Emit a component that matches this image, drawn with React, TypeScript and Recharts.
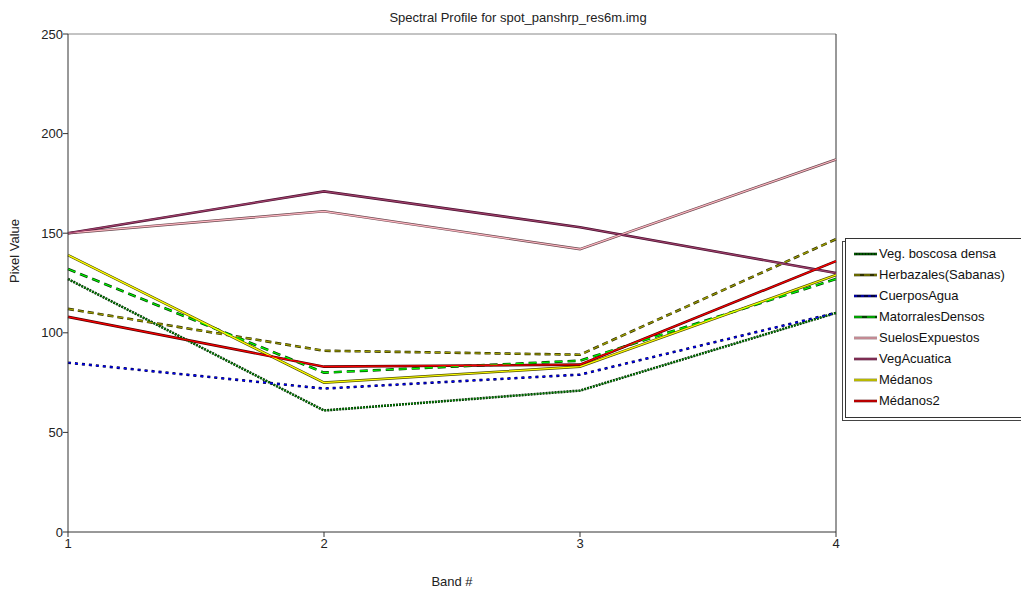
import React from "react";
import { LineChart, Line, XAxis, YAxis, ReferenceLine } from "recharts";

const bands = [1, 2, 3, 4];
const bandTicks = [1, 2, 3, 4];
const valueTicks = [0, 50, 100, 150, 200, 250];

const vegBoscosa = [127, 61, 71, 110];
const herbazales = [112, 91, 89, 147];
const cuerposAgua = [85, 72, 79, 110];
const matorrales = [132, 80, 86, 127];
const suelos = [150, 161, 142, 187];
const vegAcuatica = [150, 171, 153, 130];
const medanos = [139, 75, 83, 129];
const medanos2 = [108, 83, 84, 136];

const seriesDefs = [
  { key: "veg", name: "Veg. boscosa densa", values: vegBoscosa, color: "#008000", outline: "#002800", dash: "2 1" },
  { key: "herb", name: "Herbazales(Sabanas)", values: herbazales, color: "#a0a000", outline: "#303000", dash: "6 4" },
  { key: "agua", name: "CuerposAgua", values: cuerposAgua, color: "#0000ff", outline: "#000040", dash: "3 4" },
  { key: "mat", name: "MatorralesDensos", values: matorrales, color: "#00ff00", outline: "#004000", dash: "8 5" },
  { key: "suelos", name: "SuelosExpuestos", values: suelos, color: "#ffb6c1", outline: "#6b4a50", dash: undefined },
  { key: "acu", name: "VegAcuatica", values: vegAcuatica, color: "#a0406a", outline: "#4a1030", dash: undefined },
  { key: "med", name: "Médanos", values: medanos, color: "#ffff00", outline: "#505000", dash: undefined },
  { key: "med2", name: "Médanos2", values: medanos2, color: "#ff0000", outline: "#500000", dash: undefined },
];

const data = bands.map((b, i) => {
  const row: Record<string, number> = { band: b };
  seriesDefs.forEach((s) => {
    row[s.key] = s.values[i];
  });
  return row;
});

const font = "'Liberation Sans', Arial, sans-serif";

const LegendBox = () => (
  <div
    style={{
      position: "absolute",
      left: 845,
      top: 238,
      width: 190,
      height: 180,
      border: "1px solid #333",
      boxShadow: "-3px 3px 0 -1px #fff, -3px 3px 0 0 #444",
      background: "#fff",
      fontFamily: font,
      fontSize: 13,
      color: "#111",
      paddingTop: 4,
      boxSizing: "border-box",
    }}
  >
    {seriesDefs.map((s) => (
      <div key={s.key} style={{ display: "flex", alignItems: "center", height: 21, paddingLeft: 8 }}>
        <svg width={23} height={6} style={{ marginRight: 2 }}>
          <line x1={0} y1={3} x2={23} y2={3} stroke={s.outline} strokeWidth={2.6} />
          <line x1={0} y1={3} x2={23} y2={3} stroke={s.color} strokeWidth={1.2} strokeDasharray={s.dash} />
        </svg>
        <span style={{ whiteSpace: "nowrap" }}>{s.name}</span>
      </div>
    ))}
  </div>
);

export default function App() {
  return (
    <div style={{ position: "absolute", left: 0, top: 0, width: 1021, height: 590, background: "#fff", overflow: "hidden" }}>
      <div
        style={{
          position: "absolute",
          left: 68,
          width: 900,
          top: 10,
          textAlign: "center",
          fontFamily: font,
          fontSize: 13,
          color: "#222",
        }}
      >
        Spectral Profile for spot_panshrp_res6m.img
      </div>
      <LineChart width={1021} height={590} data={data} margin={{ top: 34, right: 185, bottom: 0, left: 0 }}>
        <XAxis
          dataKey="band"
          type="number"
          domain={[1, 4]}
          ticks={bandTicks}
          height={58}
          tickSize={5}
          stroke="#333"
          tick={{ fill: "#222", fontSize: 13, fontFamily: font }}
          label={{ value: "Band #", position: "insideBottom", offset: 4, fill: "#222", fontSize: 13, fontFamily: font }}
        />
        <YAxis
          domain={[0, 250]}
          ticks={valueTicks}
          width={68}
          tickSize={5}
          tickMargin={0}
          stroke="#333"
          tick={{ fill: "#222", fontSize: 13, fontFamily: font }}
          label={{ value: "Pixel Value", angle: -90, position: "insideLeft", offset: 14, fill: "#222", fontSize: 13, fontFamily: font }}
        />
        <ReferenceLine y={250} stroke="#888" strokeWidth={1} />
        <ReferenceLine x={4} stroke="#333" strokeWidth={1} />
        {seriesDefs.map((s) => (
          <Line
            key={s.key + "-o"}
            dataKey={s.key}
            stroke={s.outline}
            strokeWidth={2.6}
            strokeDasharray={s.dash}
            dot={false}
            activeDot={false}
            legendType="none"
            isAnimationActive={false}
          />
        ))}
        {seriesDefs.map((s) => (
          <Line
            key={s.key}
            dataKey={s.key}
            name={s.name}
            stroke={s.color}
            strokeWidth={1.2}
            strokeDasharray={s.dash}
            dot={false}
            activeDot={false}
            isAnimationActive={false}
          />
        ))}
      </LineChart>
      <LegendBox />
    </div>
  );
}
